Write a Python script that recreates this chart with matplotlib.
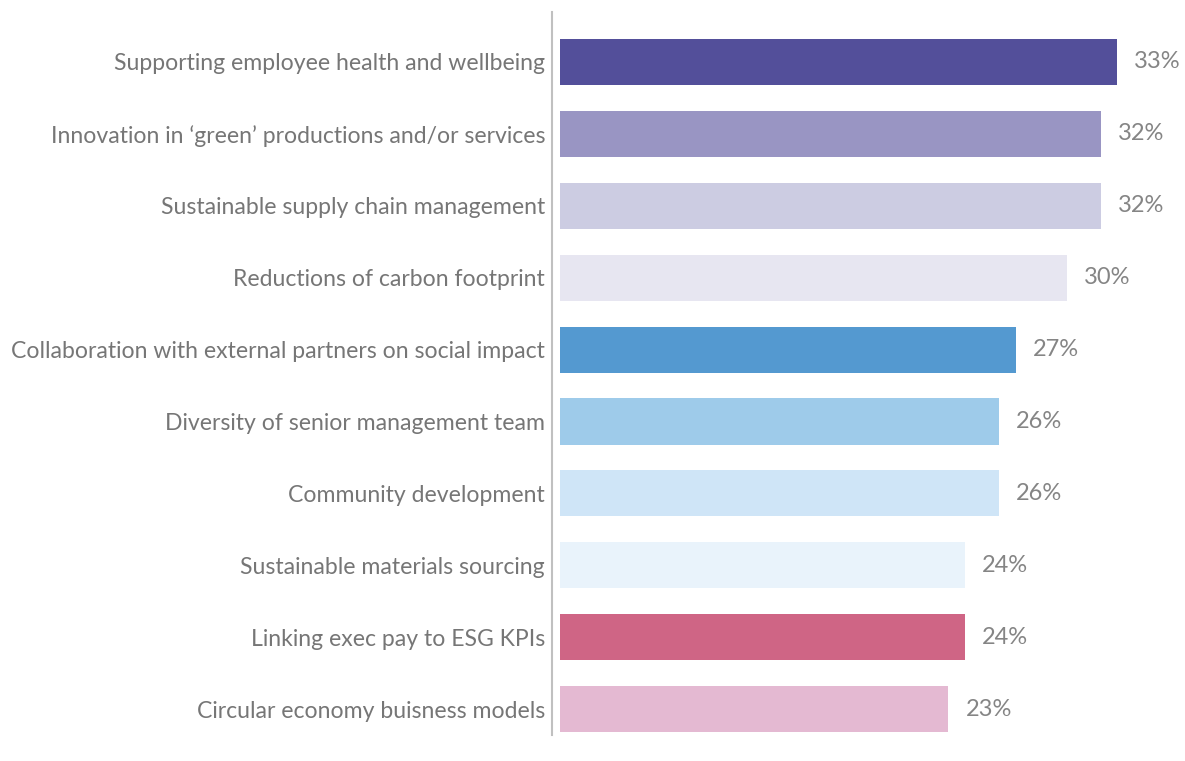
import matplotlib
matplotlib.use("Agg")
from matplotlib import pyplot as plt

# data, top to bottom
categories = [
    "Supporting employee health and wellbeing",
    "Innovation in \u2018green\u2019 productions and/or services",
    "Sustainable supply chain management",
    "Reductions of carbon footprint",
    "Collaboration with external partners on social impact",
    "Diversity of senior management team",
    "Community development",
    "Sustainable materials sourcing",
    "Linking exec pay to ESG KPIs",
    "Circular economy buisness models",
]
values = [33, 32, 32, 30, 27, 26, 26, 24, 24, 23]
bar_colors = [
    "#534f9a", "#9995c3", "#cccce2", "#e7e6f1",
    "#5499d0", "#9ecbea", "#cfe5f7", "#e9f3fb",
    "#cf6585", "#e4b9d2",
]

plt.rcParams["font.family"] = ["Lato", "DejaVu Sans"]

fig = plt.figure(figsize=(11.85, 7.61), dpi=100)
ax = fig.add_axes([552 / 1185, 1 - 735 / 761, 1 - 552 / 1185, (735 - 12) / 761])

pos = list(range(len(categories)))
ax.barh(pos, values, height=0.64, color=bar_colors, left=0)

for p, v in zip(pos, values):
    ax.text(v + 1.0, p, f"{v}%", va="center", ha="left", fontsize=17,
            color="#858585")

ax.set_yticks(pos)
ax.set_yticklabels(categories, fontsize=16.6, color="#767676")
ax.tick_params(axis="y", length=0, pad=5)
ax.set_xticks([])

ax.set_xlim(-0.47, 37.0)
ax.set_ylim(9.36, -0.695)

for s in ["top", "right", "bottom"]:
    ax.spines[s].set_visible(False)
ax.spines["left"].set_color("#c0c0c0")
ax.spines["left"].set_linewidth(1.5)

fig.savefig("out.png", dpi=100)
